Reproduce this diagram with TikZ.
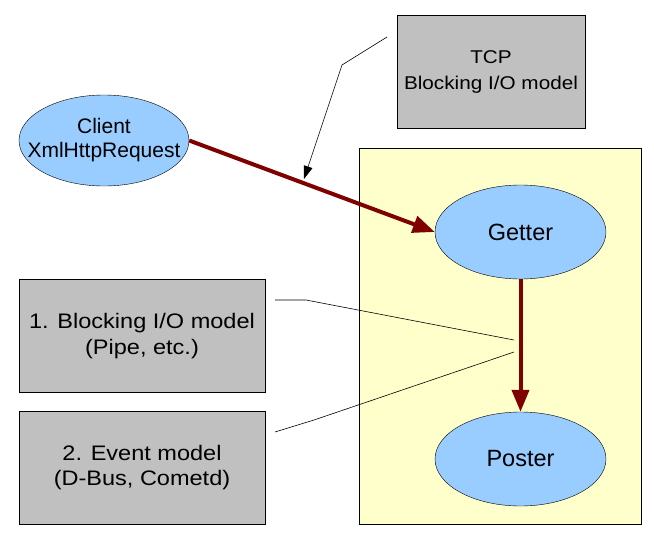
\documentclass[tikz,border=0pt]{standalone}
\usepackage{fontspec}
\setmainfont{Liberation Sans}
\newfontfamily\widefont[FakeStretch=1.12]{Liberation Sans}
\usetikzlibrary{shapes.geometric,arrows.meta}
\definecolor{procblue}{RGB}{153,204,255}
\definecolor{notegray}{RGB}{192,192,192}
\definecolor{paleyellow}{RGB}{255,255,204}
\definecolor{flowred}{RGB}{128,0,0}
\begin{document}
\begin{tikzpicture}[x=1pt,y=-1pt,
  proc/.style={ellipse,draw,fill=procblue,inner sep=0pt,
    minimum width=171pt,minimum height=94pt},
  proctext/.style={align=center,inner sep=0pt,font=\fontsize{23.5}{24}\selectfont},
  note/.style={rectangle,draw,fill=notegray,align=center,
    minimum width=246pt,minimum height=113pt,font=\widefont\fontsize{21}{25.5}\selectfont},
  flow/.style={draw=flowred,line width=4pt,-{Triangle[length=22pt,width=17pt]}},
  callout/.style={draw,line width=0.6pt}]
\useasboundingbox (0,0) rectangle (654,538);
% container
\draw[fill=paleyellow] (359,148) rectangle (641,524);
% ellipses
\node[proc,minimum width=170pt,minimum height=91pt] (client) at (104,140.5) {};
\node[proctext,font=\fontsize{21}{24}\selectfont] (clienttext) at (client.center) {Client\\XmlHttpRequest};
\node[proc] (getter) at (520.5,232) {};
\node[proctext] (gettertext) at (getter.center) {Getter};
\node[proc] (poster) at (520.5,459) {};
\node[proctext] (postertext) at (poster.center) {Poster};
% notes
\node[note,minimum width=188pt,font=\widefont\fontsize{18.5}{26}\selectfont] (tcp) at (491,71.5) {TCP\\Blocking I/O model};
\node[note] (blocking) at (142,336) {1. Blocking I/O model\\(Pipe, etc.)};
\node[note] (event) at (142,467.5) {2. Event model\\(D-Bus, Cometd)};
% flows
\draw[flow] (client.east) -- (getter.west);
\draw[flow] (getter.south) -- (poster.north);
% callouts
\coordinate (T1) at (387,37);
\coordinate (T2) at (342,65);
\coordinate (T3) at (304,179);
\draw[callout,-{Triangle[length=13pt,width=9pt]}] (T1) -- (T2) -- (T3);
\coordinate (B1) at (275,300);
\coordinate (B2) at (306,300);
\coordinate (B3) at (514,340);
\draw[callout] (B1) -- (B2) -- (B3);
\coordinate (E1) at (275,432);
\coordinate (E2) at (314,420);
\coordinate (E3) at (514,352);
\draw[callout] (E1) -- (E2) -- (E3);
\end{tikzpicture}
\end{document}
